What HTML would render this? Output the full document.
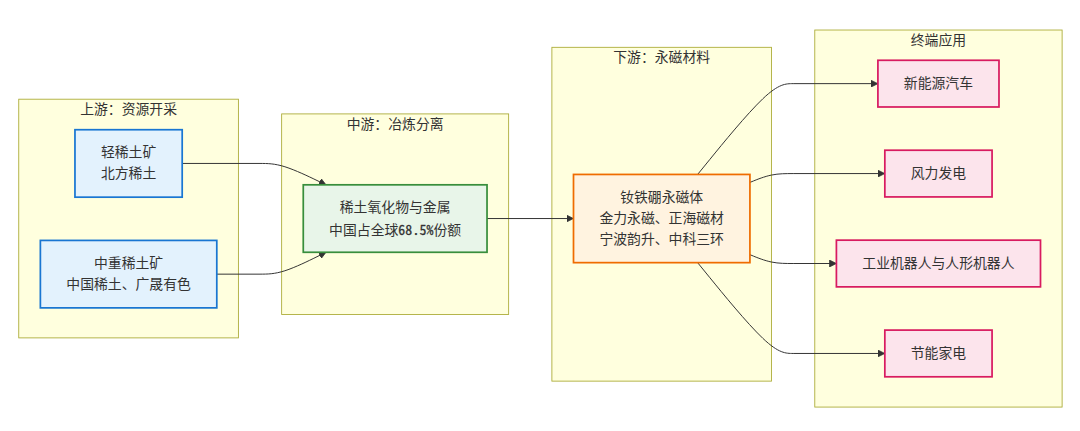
<!DOCTYPE html>
<html lang="zh-CN">
<head>
<meta charset="utf-8">
<title>稀土永磁产业链</title>
<style>
html,body{margin:0;padding:0;background:#fff;}
body{width:1080px;height:431px;overflow:hidden;}
svg{display:block;font-family:"Liberation Sans","Noto Sans CJK SC",sans-serif;font-size:16px;fill:#333;}
.lbl{font-family:"Liberation Sans","Noto Sans CJK SC",sans-serif;font-size:16px;font-weight:400;line-height:1.5;color:#333;text-align:center;white-space:nowrap;}
.lbl p{margin:0;}
.lat{font-family:"Noto Sans CJK SC","Liberation Sans",sans-serif;font-feature-settings:"hwid";letter-spacing:0.13px;-webkit-text-stroke:0.3px #333;}
.cluster rect{fill:#ffffde;stroke:#aaaa33;stroke-width:1px;}
.node rect{stroke-width:2px;}
.edge{fill:none;stroke:#333333;stroke-width:1.15px;}
.arrow{fill:#333333;stroke:#333333;stroke-width:1;}
</style>
</head>
<body>
<svg width="1080" height="431" viewBox="0 0 1080 431">
<defs>
<marker id="pointEnd" viewBox="0 0 10 10" refX="5" refY="5" markerUnits="userSpaceOnUse" markerWidth="8" markerHeight="8" orient="auto"><path class="arrow" d="M 0 0 L 10 5 L 0 10 z"/></marker>
</defs>
<g transform="translate(11.83,23.1) scale(0.8648)">
<g class="clusters">
<g class="cluster" id="S4"><rect x="928.4843" y="8" width="286" height="436"/><foreignObject x="1019.4843" y="8" width="104" height="24"><div class="lbl"><p>终端应用</p></div></foreignObject></g>
<g class="cluster" id="S3"><rect x="624.4843" y="28" width="254" height="386"/><foreignObject x="675.4843" y="28" width="152" height="24"><div class="lbl"><p>下游：永磁材料</p></div></foreignObject></g>
<g class="cluster" id="S2"><rect x="312" y="105" width="262.4843" height="232"/><foreignObject x="367.2421" y="105" width="152" height="24"><div class="lbl"><p>中游：冶炼分离</p></div></foreignObject></g>
<g class="cluster" id="S1"><rect x="8" y="88" width="254" height="276"/><foreignObject x="59" y="88" width="152" height="24"><div class="lbl"><p>上游：资源开采</p></div></foreignObject></g>
</g>
<g class="edgePaths">
<path class="edge" d="M197,162.29L287,162.29C295.333,162.29,303.667,162.29,315.777,166.119C327.888,169.948,343.775,177.605,351.719,181.434L359.663,185.263" marker-end="url(#pointEnd)"/>
<path class="edge" d="M237,290.29L287,290.29C295.333,290.29,303.667,290.29,315.78,286.37C327.893,282.45,343.786,274.61,351.733,270.69L359.679,266.77" marker-end="url(#pointEnd)"/>
<path class="edge" d="M549.484,226L645.484,226" marker-end="url(#pointEnd)"/>
<path class="edge" d="M793.004,175L807.25,157.5C821.497,140,849.991,105,868.404,87.5C886.818,70,895.151,70,903.484,70L997.484,70" marker-end="url(#pointEnd)"/>
<path class="edge" d="M853.484,184.236L857.651,182.53C861.818,180.824,870.151,177.412,878.484,175.706C886.818,174,895.151,174,903.484,174L1005.484,174" marker-end="url(#pointEnd)"/>
<path class="edge" d="M853.484,267.764L857.651,269.47C861.818,271.176,870.151,274.588,878.484,276.294C886.818,278,895.151,278,903.484,278L949.484,278" marker-end="url(#pointEnd)"/>
<path class="edge" d="M793.004,277L807.25,294.5C821.497,312,849.991,347,868.404,364.5C886.818,382,895.151,382,903.484,382L1005.484,382" marker-end="url(#pointEnd)"/>
</g>
<g class="nodes">
<g class="node" id="A"><rect x="73" y="123.2899" width="124" height="78" fill="#e3f2fd" stroke="#1976d2"/><foreignObject x="83" y="138.29" width="104" height="48"><div class="lbl"><p>轻稀土矿<br/>北方稀土</p></div></foreignObject></g>
<g class="node" id="B"><rect x="33" y="251.2900" width="204" height="78" fill="#e3f2fd" stroke="#1976d2"/><foreignObject x="43" y="266.29" width="184" height="48"><div class="lbl"><p>中重稀土矿<br/>中国稀土、广晟有色</p></div></foreignObject></g>
<g class="node" id="C"><rect x="337" y="187" width="212.4843" height="78" fill="#e8f5e9" stroke="#388e3c"/><foreignObject x="347" y="202" width="192.4843" height="48"><div class="lbl"><p>稀土氧化物与金属<br/>中国占全球<span class="lat">68.5%</span>份额</p></div></foreignObject></g>
<g class="node" id="D"><rect x="649.4843" y="175" width="204" height="102" fill="#fff3e0" stroke="#ef6c00"/><foreignObject x="659.4843" y="190" width="184" height="72"><div class="lbl"><p>钕铁硼永磁体<br/>金力永磁、正海磁材<br/>宁波韵升、中科三环</p></div></foreignObject></g>
<g class="node" id="E"><rect x="1001.4843" y="43" width="140" height="54" fill="#fce4ec" stroke="#d81b60"/><foreignObject x="1011.4843" y="58" width="120" height="24"><div class="lbl"><p>新能源汽车</p></div></foreignObject></g>
<g class="node" id="F"><rect x="1009.4843" y="147" width="124" height="54" fill="#fce4ec" stroke="#d81b60"/><foreignObject x="1019.4843" y="162" width="104" height="24"><div class="lbl"><p>风力发电</p></div></foreignObject></g>
<g class="node" id="G"><rect x="953.4843" y="251" width="236" height="54" fill="#fce4ec" stroke="#d81b60"/><foreignObject x="963.4843" y="266" width="216" height="24"><div class="lbl"><p>工业机器人与人形机器人</p></div></foreignObject></g>
<g class="node" id="H"><rect x="1009.4843" y="355" width="124" height="54" fill="#fce4ec" stroke="#d81b60"/><foreignObject x="1019.4843" y="370" width="104" height="24"><div class="lbl"><p>节能家电</p></div></foreignObject></g>
</g>
</g>
</svg>
</body>
</html>
